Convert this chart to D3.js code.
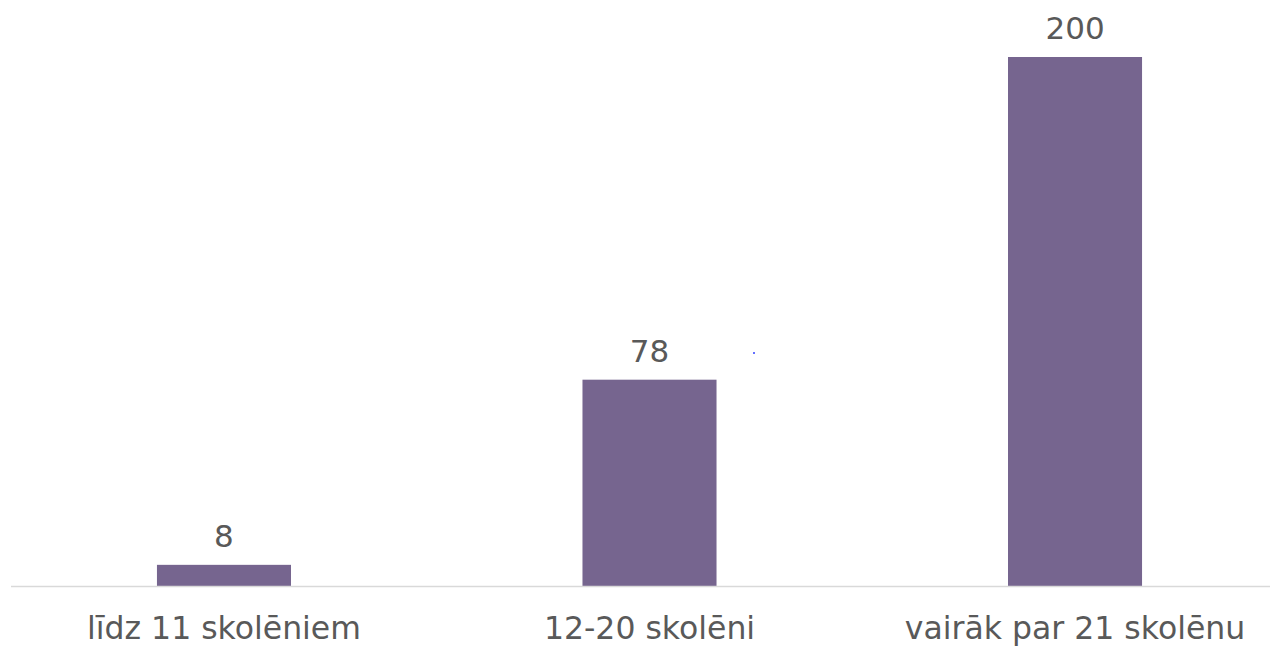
<!DOCTYPE html>
<html><head><meta charset="utf-8">
<script src="https://cdn.jsdelivr.net/npm/d3@7"></script>
<style>body{margin:0;background:#fff}svg{display:block}</style>
</head><body>
<script>
const categories = ["līdz 11 skolēniem", "12-20 skolēni", "vairāk par 21 skolēnu"];
const values = [8, 78, 200];

const W = 1270, H = 647;
const FONT = "'DejaVu Sans', Verdana, sans-serif";
const svg = d3.select("body").append("svg").attr("width", W).attr("height", H);

const x = d3.scaleBand().domain(categories).range([11, 1288])
  .paddingInner(0.685).paddingOuter(0.343);
const y = d3.scaleLinear().domain([0, 200]).range([586, 57]);

svg.selectAll("rect.bar").data(values).join("rect")
  .attr("class", "bar")
  .attr("x", (d, i) => x(categories[i]))
  .attr("width", x.bandwidth())
  .attr("y", d => y(d))
  .attr("height", d => y(0) - y(d))
  .attr("fill", "#76658f");

const axis = svg.append("g").attr("transform", `translate(0,${y(0)})`)
  .call(d3.axisBottom(x).tickSize(0).tickPadding(0));
axis.select(".domain").remove();
svg.append("line").attr("x1", 11).attr("x2", 1270).attr("y1", y(0) + 0.5).attr("y2", y(0) + 0.5)
  .attr("stroke", "#d9d9d9").attr("stroke-width", 1.5);
axis.selectAll("text")
  .attr("dy", null).attr("y", 53)
  .attr("fill", "#595959")
  .style("font-family", FONT)
  .style("font-size", "31.5px");

svg.selectAll("text.val").data(values).join("text")
  .attr("class", "val")
  .attr("x", (d, i) => x(categories[i]) + x.bandwidth() / 2)
  .attr("y", d => y(d) - 18)
  .attr("text-anchor", "middle")
  .attr("fill", "#595959")
  .style("font-family", FONT)
  .style("font-size", "31px")
  .text(d => d);

svg.append("circle").attr("cx", 754).attr("cy", 353).attr("r", 1).attr("fill", "#3040ff");
</script>
</body></html>
